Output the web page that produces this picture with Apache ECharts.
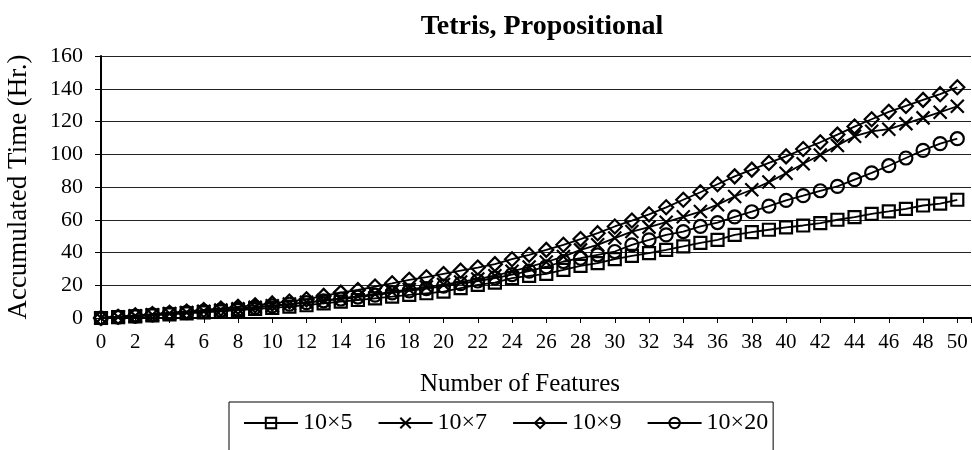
<!DOCTYPE html>
<html>
<head>
<meta charset="utf-8">
<script src="https://cdn.jsdelivr.net/npm/echarts@6/dist/echarts.min.js"></script>
<style>html,body{margin:0;padding:0;background:#fff}#c{width:972px;height:450px}</style>
</head>
<body>
<div id="c"></div>
<script>
const titleText = 'Tetris, Propositional';
const xName = 'Number of Features';
const yName = 'Accumulated Time (Hr.)';
const features = Array.from({length: 51}, (_, i) => i);
const seriesNames = ['10×5', '10×7', '10×9', '10×20'];
const s10x5 = [0,0.5,1,1.6,2.2,2.8,3.4,4.1,4.8,5.5,6.2,7.0,7.8,8.9,10,11,12,13,14.1,15.1,16.1,18.2,20.2,21.6,24.3,25.7,26.9,29.4,31.8,33.5,35.9,37.9,39.6,41.6,43.7,45.9,47.7,50.8,52.5,53.9,55.3,56.5,58,60,61.6,63.6,65.1,66.7,68.7,69.8,72.2];
const s10x7 = [0,0.6,1.3,2.0,2.7,3.4,4.1,4.9,5.7,6.6,7.5,8.5,9.6,10.8,12,13.3,14.6,16,17.4,18.9,20.4,22,23.8,25.8,28.5,31.2,34.2,37.5,41.6,44.7,48.8,52.8,55.5,58.5,61.8,65,69.2,74.2,78.3,83,88.4,94.2,99.5,105.4,111,114,115.3,118.7,122.2,125.7,129.3];
const s10x9 = [0,0.8,1.6,2.4,3.2,4.0,4.9,5.8,6.8,7.8,8.9,10.1,11.4,13.5,15.5,17.1,19.2,21.2,23.3,24.9,26.9,28.9,30.8,32.9,35.9,38.6,41.6,44.7,48.2,51.8,55.9,59.5,63.3,67.6,72.2,76.8,81.7,86.5,90.6,94.7,98.7,103.2,107.3,112,116.9,121.4,125.9,129.5,133.2,136.7,140.9];
const s10x20 = [0,0.6,1.2,1.9,2.6,3.3,4.0,4.8,5.6,6.5,7.4,8.4,9.4,10.5,11.6,12.8,14,15.3,16.6,18,19.5,21,22.6,24.4,26.5,28.6,31.3,34.5,36.5,38.6,40.6,44.7,47.7,50.8,52.8,55.9,58.3,61.7,64.9,68.3,71.8,74.7,77.7,80.4,84.5,88.6,93,97.7,102.4,106.5,109.5];
const yTicks = [0,20,40,60,80,100,120,140,160];

const FONT = '"Liberation Serif", "Times New Roman", serif';
const symbols = ['rect', 'path://M0,0L10,10M10,0L0,10', 'diamond', 'circle'];
const sizes = [12, 13, 14, 13];
const values = [s10x5, s10x7, s10x9, s10x20];

const chart = echarts.init(document.getElementById('c'), null, {renderer: 'canvas'});
chart.setOption({
  backgroundColor: '#fff',
  animation: false,
  title: {
    text: titleText, left: 537, top: 8, textAlign: 'center',
    textStyle: {fontFamily: FONT, fontWeight: 'bold', fontSize: 28, color: '#000'}
  },
  grid: {left: 101, right: 1, top: 56, bottom: 132, containLabel: false, outerBoundsMode: 'none'},
  legend: {
    data: seriesNames, left: 229, top: 402, orient: 'horizontal',
    itemWidth: 54, itemHeight: 13, itemGap: 25,
    padding: [9, 5, 30, 14],
    borderColor: '#000', borderWidth: 1,
    textStyle: {fontFamily: FONT, fontSize: 24, color: '#000'}
  },
  xAxis: [{
    type: 'value', min: 0, max: 50.8, interval: 2,
    name: xName, nameLocation: 'middle', nameGap: 54,
    nameTextStyle: {fontFamily: FONT, fontSize: 25, color: '#000', padding: [0, 32, 0, 0]},
    axisLine: {show: true, onZero: false, lineStyle: {color: '#000', width: 2}},
    axisTick: {show: true, length: 5, lineStyle: {color: '#000', width: 1}},
    axisLabel: {fontFamily: FONT, fontSize: 21, color: '#000', margin: 14,
      formatter: v => (Math.abs(v - Math.round(v)) < 1e-6 && Math.round(v) % 2 === 0) ? String(Math.round(v)) : ''},
    splitLine: {show: false}
  }, {
    type: 'value', position: 'top', min: 0, max: 50.8,
    axisLine: {show: true, lineStyle: {color: '#000', width: 2}},
    axisTick: {show: false}, axisLabel: {show: false}, splitLine: {show: false}
  }],
  yAxis: {
    type: 'value', min: 0, max: 160, interval: 20,
    name: yName, nameLocation: 'middle', nameGap: 69, nameRotate: 90,
    nameTextStyle: {fontFamily: FONT, fontSize: 27, color: '#000'},
    axisLine: {show: true, lineStyle: {color: '#000', width: 2}},
    axisTick: {show: true, length: 6, lineStyle: {color: '#000', width: 1}},
    axisLabel: {fontFamily: FONT, fontSize: 22, color: '#000', margin: 18,
      formatter: v => yTicks.includes(v) ? String(v) : ''},
    splitLine: {show: true, lineStyle: {color: '#222', width: 1}}
  },
  series: seriesNames.map((n, k) => ({
    name: n, type: 'line', xAxisIndex: 0,
    data: features.map((f, i) => [f, values[k][i]]),
    symbol: symbols[k], symbolSize: sizes[k], showAllSymbol: true,
    lineStyle: {color: '#000', width: 1.8},
    itemStyle: {color: 'rgba(0,0,0,0)', borderColor: '#000', borderWidth: 2.2},
    emphasis: {disabled: true}
  }))
});
</script>
</body>
</html>
